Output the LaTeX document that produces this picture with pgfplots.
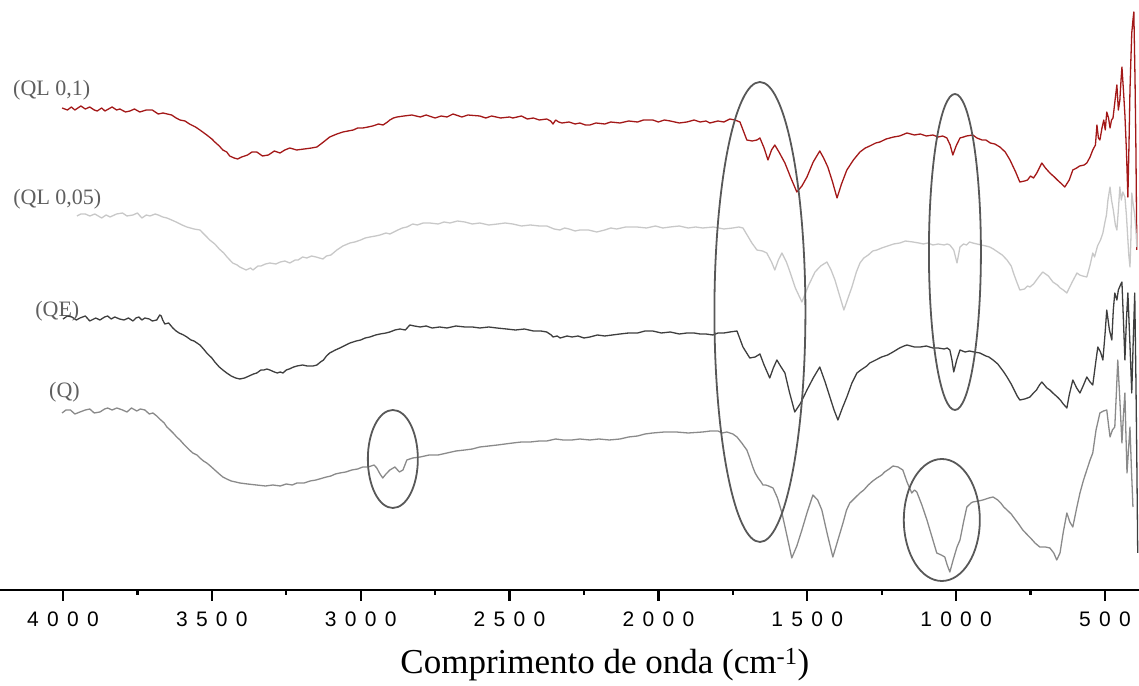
\documentclass[border=0pt]{standalone}
\usepackage{fontspec}
\setmainfont{Liberation Serif}
\newfontfamily\tickfont{Liberation Sans}
\usepackage{pgfplots}
\pgfplotsset{compat=1.18}
\definecolor{cred}{RGB}{163,24,24}
\definecolor{clight}{RGB}{200,200,200}
\definecolor{cdark}{RGB}{62,62,62}
\definecolor{cgray}{RGB}{138,138,138}
\definecolor{cell}{RGB}{88,88,88}
\definecolor{clab}{RGB}{95,95,95}
\newcommand\gap{\hspace{8.3pt}}
\pgfplotsset{
  every tick/.style={black, line width=2.3pt},
  major tick length=11pt, minor tick length=5pt,
}
\begin{document}
\begin{tikzpicture}
\begin{axis}[
  scale only axis, width=1139pt, height=590pt,
  xmin=385.7, xmax=4211.6, x dir=reverse,
  ymin=-590, ymax=0,
  hide y axis,
  axis x line*=bottom,
  x axis line style={-, line width=2pt},
  xtick={500,1000,1500,2000,2500,3000,3500,4000},
  xticklabels={5\gap0\gap0,1\gap0\gap0\gap0,1\gap5\gap0\gap0,2\gap0\gap0\gap0,2\gap5\gap0\gap0,3\gap0\gap0\gap0,3\gap5\gap0\gap0,4\gap0\gap0\gap0},
  minor xtick={750,1250,1750,2250,2750,3250,3750},
  tick align=outside, xtick pos=bottom,
  xtick style={black, line width=2.3pt},
  major tick length=11pt, minor tick length=5pt,
  xticklabel style={font=\fontsize{21}{21}\selectfont\tickfont, anchor=north, yshift=-7pt},
  xlabel={Comprimento de onda (cm\textsuperscript{-1})},
  xlabel style={font=\fontsize{35}{35}\selectfont, at={(axis description cs:0.531,0)}, anchor=base, yshift=-84pt},
  clip=false,
  every axis plot/.style={line width=1.3pt, line join=round, mark=none},
]
% (QL 0,1)
\addplot[cred] coordinates {
(4003,-108)(3985,-110)(3972,-107)(3960,-110)(3940,-106)(3925,-109)(3910,-107)(3895,-110)(3885,-111)(3870,-108)(3859,-111)(3835,-107)(3820,-110)(3809,-109)(3790,-112)(3775,-111)(3760,-109)(3742,-112)(3720,-110)(3700,-110)(3680,-114)(3664,-113)(3635,-115)(3620,-118)(3607,-120)(3590,-121)(3575,-124)(3555,-127)(3540,-130)(3517,-135)(3500,-139)(3490,-142)(3475,-146)(3463,-150)(3450,-152)(3440,-156)(3425,-158)(3413,-159)(3400,-157)(3380,-155)(3365,-152)(3349,-152)(3330,-156)(3310,-155)(3290,-151)(3271,-153)(3255,-150)(3238,-148)(3215,-150)(3190,-149)(3165,-148)(3147,-147)(3125,-142)(3104,-137)(3080,-134)(3060,-132)(3025,-130)(3010,-128)(2993,-128)(2975,-127)(2960,-126)(2940,-124)(2925,-125)(2910,-122)(2902,-120)(2890,-118)(2878,-117)(2855,-116)(2828,-115)(2800,-117)(2780,-115)(2750,-118)(2730,-116)(2710,-117)(2690,-114)(2660,-117)(2640,-115)(2600,-116)(2580,-118)(2560,-116)(2530,-118)(2500,-117)(2489,-118)(2460,-116)(2440,-119)(2420,-118)(2400,-120)(2375,-119)(2362,-121)(2354,-124)(2345,-120)(2335,-122)(2324,-123)(2300,-122)(2280,-124)(2264,-123)(2245,-125)(2230,-125)(2210,-123)(2180,-124)(2160,-122)(2129,-123)(2100,-121)(2070,-122)(2050,-120)(2019,-120)(2000,-122)(1980,-120)(1960,-121)(1930,-123)(1904,-122)(1880,-120)(1860,-122)(1840,-121)(1827,-123)(1800,-121)(1780,-122)(1760,-119)(1743,-120)(1726,-122)(1703,-140)(1685,-141)(1669,-140)(1659,-138)(1645,-148)(1632,-160)(1620,-150)(1609,-145)(1595,-152)(1575,-163)(1555,-178)(1535,-192)(1518,-186)(1501,-177)(1480,-162)(1458,-151)(1445,-158)(1431,-167)(1415,-182)(1400,-198)(1385,-184)(1367,-170)(1345,-160)(1323,-152)(1305,-148)(1290,-146)(1270,-143)(1256,-142)(1235,-139)(1210,-137)(1190,-136)(1165,-133)(1140,-135)(1120,-134)(1100,-136)(1078,-135)(1060,-137)(1045,-136)(1031,-138)(1020,-145)(1011,-155)(1000,-146)(987,-138)(975,-137)(965,-136)(944,-135)(930,-138)(913,-140)(900,-140)(885,-143)(870,-144)(853,-147)(835,-152)(819,-160)(800,-172)(786,-182)(770,-181)(760,-180)(750,-176)(740,-178)(729,-173)(712,-163)(700,-168)(685,-173)(670,-177)(660,-180)(645,-184)(635,-187)(620,-180)(608,-170)(595,-168)(585,-166)(570,-165)(561,-163)(550,-157)(541,-150)(532,-145)(527,-125)(522,-138)(517,-140)(510,-128)(504,-120)(499,-130)(494,-112)(488,-118)(483,-128)(478,-120)(473,-118)(466,-100)(460,-85)(455,-110)(450,-100)(446,-80)(443,-67)(438,-90)(433,-115)(428,-150)(423,-197)(419,-140)(416,-90)(413,-60)(410,-33)(406,-20)(403,-12)(399,-80)(396,-150)(393,-250)
};
% (QL 0,05)
\addplot[clight] coordinates {
(3953,-216)(3940,-214)(3925,-214)(3910,-216)(3893,-214)(3870,-218)(3855,-215)(3842,-217)(3820,-214)(3800,-213)(3785,-216)(3765,-215)(3750,-213)(3735,-218)(3720,-215)(3708,-216)(3690,-214)(3680,-215)(3665,-217)(3651,-218)(3635,-220)(3620,-222)(3600,-225)(3584,-227)(3560,-229)(3540,-230)(3520,-236)(3507,-240)(3490,-244)(3475,-249)(3460,-253)(3449,-257)(3430,-263)(3415,-265)(3406,-267)(3385,-270)(3370,-268)(3362,-270)(3345,-266)(3335,-266)(3320,-264)(3305,-263)(3285,-264)(3270,-262)(3255,-261)(3238,-263)(3220,-260)(3210,-260)(3195,-257)(3181,-258)(3165,-256)(3150,-257)(3127,-259)(3115,-256)(3100,-255)(3080,-250)(3060,-246)(3036,-243)(3020,-242)(3000,-240)(2985,-238)(2969,-237)(2950,-236)(2935,-235)(2915,-233)(2902,-234)(2875,-230)(2860,-228)(2845,-227)(2825,-224)(2810,-225)(2790,-223)(2768,-223)(2740,-224)(2720,-222)(2700,-223)(2675,-221)(2650,-222)(2625,-224)(2600,-223)(2570,-225)(2540,-224)(2515,-223)(2489,-224)(2460,-226)(2430,-225)(2400,-226)(2375,-226)(2350,-229)(2331,-230)(2315,-228)(2300,-229)(2280,-231)(2264,-230)(2235,-230)(2207,-232)(2180,-230)(2160,-228)(2140,-229)(2110,-227)(2072,-227)(2040,-228)(2010,-226)(1985,-228)(1961,-227)(1930,-226)(1900,-228)(1875,-227)(1851,-228)(1815,-227)(1780,-229)(1750,-228)(1730,-227)(1716,-228)(1700,-236)(1686,-243)(1669,-250)(1650,-251)(1636,-253)(1620,-262)(1609,-270)(1597,-260)(1585,-253)(1570,-262)(1558,-272)(1540,-288)(1518,-302)(1495,-285)(1474,-272)(1455,-266)(1434,-262)(1420,-270)(1407,-280)(1390,-297)(1377,-310)(1363,-298)(1350,-287)(1335,-272)(1323,-263)(1310,-258)(1295,-255)(1280,-251)(1266,-250)(1250,-248)(1230,-246)(1210,-244)(1189,-243)(1170,-241)(1145,-242)(1125,-243)(1110,-244)(1095,-243)(1078,-245)(1060,-244)(1040,-245)(1030,-244)(1021,-245)(1008,-250)(997,-263)(992,-255)(987,-247)(975,-244)(965,-245)(955,-242)(944,-243)(930,-244)(915,-245)(900,-246)(887,-247)(875,-249)(860,-252)(845,-255)(829,-260)(815,-266)(805,-275)(795,-283)(786,-290)(770,-289)(760,-286)(752,-287)(740,-284)(730,-280)(720,-276)(709,-272)(690,-276)(675,-282)(660,-285)(650,-288)(640,-290)(628,-293)(620,-288)(610,-282)(594,-273)(585,-275)(575,-276)(561,-277)(550,-265)(541,-253)(535,-257)(525,-246)(515,-240)(507,-233)(500,-222)(495,-215)(490,-200)(483,-187)(478,-200)(472,-210)(465,-225)(460,-230)(455,-210)(450,-187)(445,-200)(440,-192)(433,-197)(428,-215)(425,-230)(420,-255)(416,-267)(413,-240)(410,-193)(405,-205)(400,-215)(396,-230)(393,-247)
};
% (QE)
\addplot[cdark] coordinates {
(4000,-319)(3985,-316)(3970,-317)(3955,-320)(3943,-318)(3925,-316)(3910,-321)(3890,-318)(3876,-320)(3860,-317)(3850,-316)(3838,-319)(3826,-317)(3810,-319)(3795,-320)(3780,-318)(3765,-321)(3755,-318)(3745,-317)(3735,-320)(3725,-318)(3710,-319)(3700,-321)(3685,-320)(3675,-315)(3670,-316)(3665,-320)(3658,-324)(3645,-323)(3631,-328)(3620,-331)(3610,-333)(3595,-335)(3584,-337)(3570,-340)(3560,-341)(3550,-343)(3540,-345)(3528,-349)(3517,-353)(3500,-358)(3490,-362)(3475,-367)(3463,-370)(3450,-373)(3435,-376)(3420,-378)(3406,-379)(3390,-378)(3375,-376)(3360,-374)(3349,-373)(3335,-370)(3325,-370)(3315,-369)(3305,-370)(3290,-372)(3280,-373)(3270,-372)(3261,-373)(3250,-370)(3240,-369)(3225,-367)(3214,-366)(3195,-365)(3180,-366)(3160,-366)(3147,-365)(3135,-362)(3125,-360)(3115,-356)(3104,-353)(3085,-350)(3070,-348)(3050,-345)(3036,-343)(3015,-341)(3000,-340)(2985,-338)(2969,-337)(2950,-335)(2935,-334)(2915,-333)(2902,-332)(2885,-330)(2868,-329)(2850,-330)(2835,-325)(2820,-326)(2800,-327)(2780,-326)(2760,-328)(2735,-327)(2710,-328)(2680,-326)(2650,-327)(2625,-327)(2600,-328)(2570,-327)(2543,-328)(2510,-329)(2480,-330)(2450,-329)(2420,-331)(2395,-331)(2375,-332)(2360,-335)(2354,-337)(2340,-336)(2330,-338)(2318,-337)(2307,-336)(2290,-337)(2270,-336)(2250,-338)(2230,-337)(2205,-335)(2180,-336)(2155,-335)(2129,-334)(2100,-333)(2070,-333)(2045,-331)(2019,-331)(1990,-333)(1960,-332)(1930,-334)(1904,-333)(1880,-333)(1860,-334)(1840,-334)(1817,-335)(1800,-333)(1780,-333)(1760,-332)(1736,-331)(1716,-347)(1693,-358)(1675,-357)(1659,-354)(1645,-365)(1626,-378)(1614,-368)(1602,-360)(1590,-366)(1575,-373)(1560,-392)(1542,-412)(1522,-403)(1501,-390)(1480,-378)(1458,-367)(1440,-382)(1424,-397)(1410,-410)(1397,-420)(1382,-408)(1367,-397)(1350,-383)(1333,-373)(1320,-370)(1310,-368)(1300,-366)(1290,-363)(1270,-360)(1250,-357)(1230,-355)(1212,-352)(1190,-348)(1175,-346)(1165,-345)(1140,-347)(1120,-347)(1100,-346)(1078,-348)(1060,-348)(1040,-349)(1030,-348)(1021,-350)(1014,-360)(1008,-372)(998,-360)(987,-350)(970,-352)(955,-351)(940,-352)(920,-353)(900,-356)(890,-357)(876,-360)(860,-364)(850,-368)(840,-372)(829,-377)(815,-384)(805,-390)(795,-396)(786,-400)(770,-399)(760,-398)(752,-397)(740,-393)(730,-390)(720,-385)(712,-382)(695,-388)(685,-390)(675,-393)(660,-397)(650,-400)(640,-404)(628,-408)(620,-395)(608,-380)(595,-388)(584,-393)(572,-385)(561,-377)(550,-382)(541,-385)(530,-360)(524,-347)(515,-352)(507,-360)(500,-335)(494,-310)(485,-330)(477,-340)(472,-310)(467,-293)(460,-300)(455,-290)(448,-285)(443,-282)(438,-320)(433,-360)(428,-320)(423,-293)(416,-345)(410,-393)(405,-340)(400,-293)(396,-380)(393,-460)(390,-553)
};
% (Q)
\addplot[cgray] coordinates {
(4003,-413)(3990,-410)(3975,-410)(3960,-414)(3943,-412)(3925,-410)(3910,-409)(3895,-413)(3876,-412)(3860,-409)(3850,-408)(3835,-410)(3819,-408)(3800,-410)(3785,-412)(3770,-408)(3752,-411)(3740,-409)(3725,-410)(3710,-414)(3698,-413)(3685,-416)(3675,-419)(3660,-423)(3651,-427)(3640,-430)(3630,-433)(3618,-437)(3607,-440)(3595,-444)(3585,-447)(3575,-450)(3564,-453)(3550,-455)(3540,-458)(3528,-461)(3517,-463)(3505,-466)(3490,-470)(3475,-474)(3463,-477)(3450,-479)(3435,-481)(3420,-482)(3406,-483)(3380,-484)(3350,-485)(3320,-486)(3295,-485)(3270,-486)(3250,-484)(3230,-485)(3214,-483)(3190,-483)(3170,-481)(3150,-480)(3127,-478)(3115,-477)(3100,-476)(3085,-474)(3070,-473)(3050,-472)(3030,-470)(3010,-469)(2993,-467)(2975,-467)(2965,-466)(2955,-465)(2946,-468)(2935,-474)(2926,-478)(2915,-474)(2902,-470)(2885,-467)(2870,-472)(2858,-470)(2845,-460)(2835,-459)(2825,-458)(2800,-457)(2770,-455)(2740,-455)(2710,-453)(2680,-451)(2650,-450)(2625,-449)(2600,-447)(2570,-446)(2540,-445)(2515,-444)(2489,-443)(2460,-442)(2430,-442)(2400,-441)(2375,-441)(2345,-439)(2320,-440)(2290,-440)(2264,-439)(2230,-440)(2200,-439)(2165,-440)(2129,-439)(2100,-437)(2070,-436)(2045,-434)(2019,-433)(1980,-432)(1940,-432)(1900,-433)(1851,-432)(1825,-431)(1800,-431)(1785,-433)(1770,-432)(1750,-434)(1736,-437)(1720,-443)(1703,-450)(1693,-458)(1683,-467)(1675,-473)(1665,-478)(1655,-482)(1649,-485)(1640,-485)(1630,-486)(1615,-488)(1600,-498)(1585,-513)(1568,-536)(1552,-558)(1535,-546)(1518,-530)(1500,-512)(1481,-495)(1465,-500)(1451,-510)(1432,-535)(1414,-557)(1397,-540)(1380,-523)(1368,-510)(1357,-503)(1340,-498)(1323,-493)(1310,-490)(1295,-485)(1280,-481)(1266,-478)(1250,-475)(1240,-472)(1225,-469)(1212,-466)(1195,-467)(1179,-470)(1165,-482)(1149,-493)(1140,-490)(1132,-492)(1115,-505)(1098,-520)(1080,-538)(1065,-553)(1050,-555)(1038,-557)(1030,-565)(1021,-572)(1010,-560)(997,-547)(987,-540)(975,-522)(964,-507)(950,-503)(944,-502)(925,-501)(910,-500)(890,-498)(876,-497)(860,-500)(850,-503)(840,-507)(829,-510)(815,-514)(800,-520)(790,-524)(776,-530)(760,-535)(750,-538)(735,-543)(719,-547)(700,-547)(685,-548)(672,-553)(662,-560)(651,-553)(640,-532)(628,-513)(618,-522)(608,-527)(595,-508)(584,-493)(572,-480)(561,-470)(550,-460)(541,-453)(530,-430)(517,-413)(505,-411)(494,-410)(488,-425)(483,-437)(475,-430)(467,-427)(462,-395)(457,-360)(450,-400)(443,-443)(438,-415)(433,-393)(430,-430)(426,-473)(421,-450)(416,-427)(411,-470)(406,-507)
};
% ellipses
\draw[cell, line width=1.8pt] (axis cs:1659,-312) ellipse [x radius=45.5pt, y radius=230pt];
\draw[cell, line width=1.8pt] (axis cs:1004,-252) ellipse [x radius=26pt, y radius=158pt];
\draw[cell, line width=1.8pt] (axis cs:1048,-520) ellipse [x radius=38pt, y radius=61pt];
\draw[cell, line width=1.8pt] (axis cs:2892,-459) ellipse [x radius=25pt, y radius=49pt];
% labels
\begin{scope}[every node/.style={font=\fontsize{22}{22}\selectfont, text=clab, inner sep=0pt}]
\node at (axis cs:4038,-90) {(QL 0,1)};
\node at (axis cs:4019,-199) {(QL 0,05)};
\node at (axis cs:4019,-311) {(QE)};
\node at (axis cs:3995,-392) {(Q)};
\end{scope}
\end{axis}
\pgfresetboundingbox
\path[use as bounding box] (current axis.south west) ++(0,-96pt) rectangle (current axis.north east);
\end{tikzpicture}
\end{document}
